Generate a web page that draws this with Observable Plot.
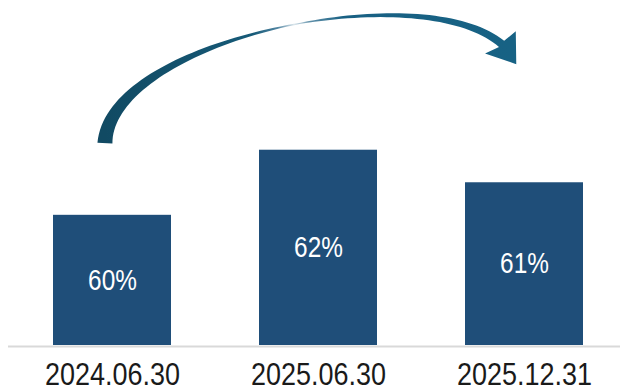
<!DOCTYPE html>
<html><head><meta charset="utf-8">
<script src="https://cdn.jsdelivr.net/npm/d3@7"></script>
<script src="https://cdn.jsdelivr.net/npm/@observablehq/plot@0.6"></script>
<style>body{margin:0;background:#fff} #chart{width:620px;height:390px}</style>
</head><body><div id="chart"></div>
<script>
const categories = ["2024.06.30", "2025.06.30", "2025.12.31"];
const values = [60, 62, 61];
const valueLabels = ["60%", "62%", "61%"];
const yMin = 56, yMax = 66.6;
const data = categories.map((c, i) => ({date: c, value: values[i], label: valueLabels[i]}));

const font = "'Liberation Sans','Arial',sans-serif";

function arrowMark(index, scales) {
  const x = scales.x, y = scales.y;
  const bw = typeof x.bandwidth === "function" ? x.bandwidth() : 118;
  const bx = (i, f) => x(categories[i]) + f * bw;
  const P0 = [bx(0, 0.44), y(62.2)];
  const P1 = [bx(0, 0.48), y(65.38)];
  const P2 = [bx(2, -0.39), y(67.38)];
  const P3 = [bx(2, 0.31), y(65.25)];
  const bez = (t) => {
    const u = 1 - t;
    const a = u*u*u, b = 3*u*u*t, c = 3*u*t*t, d = t*t*t;
    return [a*P0[0]+b*P1[0]+c*P2[0]+d*P3[0], a*P0[1]+b*P1[1]+c*P2[1]+d*P3[1]];
  };
  const der = (t) => {
    const u = 1 - t;
    return [3*u*u*(P1[0]-P0[0]) + 6*u*t*(P2[0]-P1[0]) + 3*t*t*(P3[0]-P2[0]),
            3*u*u*(P1[1]-P0[1]) + 6*u*t*(P2[1]-P1[1]) + 3*t*t*(P3[1]-P2[1])];
  };
  const width = (t) => t < 0.55 ? 1.2 + 13.8 * Math.pow((0.55 - t) / 0.55, 1.2)
                                 : 1.2 + 6.8 * Math.pow((t - 0.55) / 0.45, 0.9);
  const N = 80, left = [], right = [];
  for (let k = 0; k <= N; k++) {
    const t = k / N, p = bez(t), d = der(t);
    const L = Math.hypot(d[0], d[1]) || 1;
    const n = [-d[1] / L, d[0] / L];
    const w = width(t) / 2;
    left.push([p[0] + n[0]*w, p[1] + n[1]*w]);
    right.push([p[0] - n[0]*w, p[1] - n[1]*w]);
  }
  const d = der(1), L = Math.hypot(d[0], d[1]);
  let ux = d[0] / L, uy = d[1] / L;
  const rot = 14 * Math.PI / 180;
  const rx = ux*Math.cos(rot) - uy*Math.sin(rot), ry = ux*Math.sin(rot) + uy*Math.cos(rot);
  ux = rx; uy = ry;
  const nx = -uy, ny = ux;
  const half = 19, len = 27;
  const base = [P3[0] - ux*2, P3[1] - uy*2];
  const barbA = [base[0] + nx*half, base[1] + ny*half];
  const barbB = [base[0] - nx*half, base[1] - ny*half];
  const tip = [base[0] + ux*len, base[1] + uy*len];
  const pts = [...left, barbA, tip, barbB, ...right.reverse()];
  const g = d3.create("svg:g");
  const grad = g.append("defs").append("linearGradient")
    .attr("id", "arrowGrad").attr("gradientUnits", "userSpaceOnUse")
    .attr("x1", P0[0]).attr("y1", 0).attr("x2", tip[0]).attr("y2", 0);
  [[0, "#114a63"], [0.36, "#165a78"], [0.42, "#4f83a0"], [0.46, "#dbe6ec"], [0.5, "#5d8ea8"], [0.58, "#186083"], [1, "#176284"]]
    .forEach(([o, c]) => grad.append("stop").attr("offset", o).attr("stop-color", c));
  g.append("path")
    .attr("d", "M" + pts.map(p => p[0].toFixed(2) + "," + p[1].toFixed(2)).join("L") + "Z")
    .attr("fill", "url(#arrowGrad)");
  return g.node();
}

const chart = Plot.plot({
  width: 620, height: 390,
  marginTop: 0, marginBottom: 45, marginLeft: 8, marginRight: 0,
  style: {fontFamily: font, background: "white", overflow: "visible"},
  x: {domain: categories, range: [9, 628], paddingInner: 0.427, paddingOuter: 0.2135, label: null},
  y: {domain: [yMin, yMax], axis: null},
  marks: [
    Plot.barY(data, {x: "date", y1: yMin, y2: "value", fill: "#1f4e79"}),
    Plot.ruleY([yMin], {stroke: "#d9d9d9", strokeWidth: 2, dy: 1}),
    Plot.text(data, {x: "date", y: d => (yMin + d.value) / 2, text: "label", fill: "white", fontSize: 29}),
    Plot.axisX({tickSize: 0, tickPadding: 17, fontSize: 31, label: null, fill: "#1a1a1a"}),
    arrowMark
  ]
});
document.getElementById("chart").appendChild(chart);
// condense glyphs to mimic a narrow sans face
chart.querySelectorAll("text").forEach(t => {
  const len = t.getComputedTextLength();
  const big = parseFloat(getComputedStyle(t).fontSize) > 30;
  if (len > 0) {
    t.setAttribute("textLength", (len * (big ? 0.87 : 0.84)).toFixed(1));
    t.setAttribute("lengthAdjust", "spacingAndGlyphs");
  }
});
</script>
</body></html>
